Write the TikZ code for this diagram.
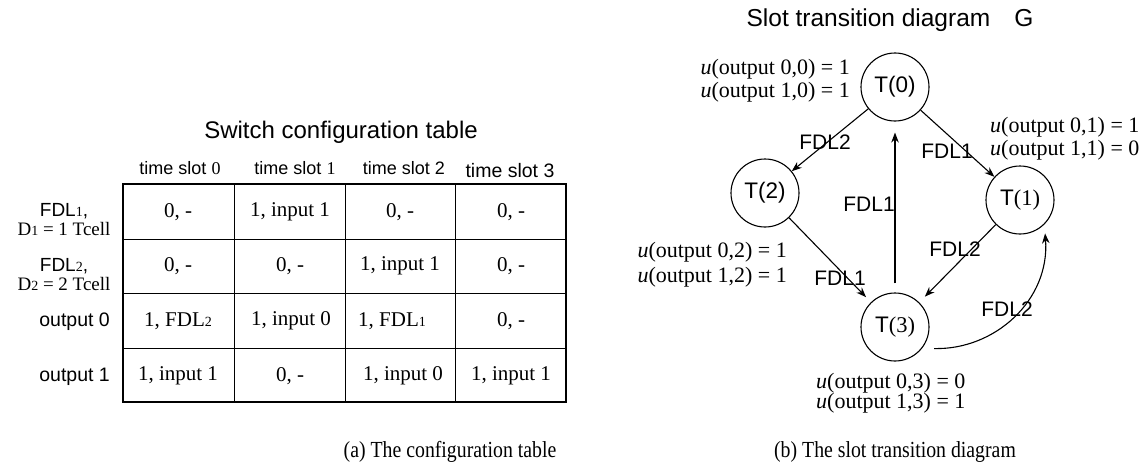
\documentclass[tikz,border=0pt]{standalone}
\usepackage{fontspec}
\setmainfont{Liberation Serif}
\setsansfont{Liberation Sans}
\newfontfamily\capfont[FakeStretch=0.86]{Liberation Serif}
\usetikzlibrary{arrows.meta}
\newcommand{\fsz}[2]{\fontsize{#1}{#2}\selectfont}
\newcommand{\sml}[1]{{\rmfamily\fsz{14}{14}#1}}
\begin{document}
\begin{tikzpicture}[x=1pt,y=-1pt,
  every node/.style={inner sep=0pt},
  tabtitle/.style={font=\sffamily\fsz{24}{26}},
  colhead/.style={font=\sffamily\fsz{18}{20}},
  rowhead/.style={font=\fsz{19}{19}, align=center},
  outhead/.style={font=\sffamily\fsz{19.5}{22}, anchor=east},
  cell/.style={font=\fsz{21}{22}},
  gridline/.style={line width=0.9pt},
  framebox/.style={line width=1.7pt},
  state/.style={circle, draw, line width=1.1pt, minimum size=68pt, font=\sffamily\fsz{22.5}{24}},
  arr/.style={-{Stealth[length=10pt,width=7.5pt]}, line width=1.1pt},
  elab/.style={font=\sffamily\fsz{21}{22}},
  ulab/.style={font=\fsz{22}{23}, align=left},
  captext/.style={font=\capfont\fsz{23}{25}}]
\useasboundingbox (0,0) rectangle (1144,471);

% ---------- configuration table ----------
\node[tabtitle] (ttlA) at (341,132) {Switch configuration table};

\node[colhead] (h0) at (180,168) {time slot \rmfamily 0};
\node[colhead] (h1) at (295,168) {time slot \rmfamily 1};
\node[colhead] (h2) at (404,168) {time slot 2};
\node[colhead, font=\sffamily\fsz{19.5}{20}] (h3) at (510,171) {time slot 3};

\node[rowhead] (r1) at (64,220) {\sffamily FDL\sml{1},\\ D\sml{1} = 1 Tcell};
\node[rowhead] (r2) at (64,275) {\sffamily FDL\sml{2},\\ D\sml{2} = 2 Tcell};
\node[outhead] (r3) at (110,322) {output 0};
\node[outhead] (r4) at (110,377) {output 1};

\draw[gridline] (234,184) -- (234,402) (345,184) -- (345,402) (455,184) -- (455,402);
\draw[gridline] (123,239) -- (566,239) (123,293) -- (566,293) (123,348) -- (566,348);
\draw[framebox] (123,184) rectangle (566,402);

\node[cell] (c11) at (178,212) {0, -};
\node[cell] (c12) at (290,212) {1, input 1};
\node[cell] (c13) at (400,212) {0, -};
\node[cell] (c14) at (511,212) {0, -};

\node[cell] (c21) at (178,266) {0, -};
\node[cell] (c22) at (290,266) {0, -};
\node[cell] (c23) at (400,266) {1, input 1};
\node[cell] (c24) at (511,266) {0, -};

\node[cell] (c31) at (178,321) {1, FDL\sml{2}};
\node[cell] (c32) at (291,321) {1, input 0};
\node[cell] (c33) at (392,321) {1, FDL\sml{1}};
\node[cell] (c34) at (511,321) {0, -};

\node[cell] (c41) at (178,376) {1, input 1};
\node[cell] (c42) at (290,376) {0, -};
\node[cell] (c43) at (403,376) {1, input 0};
\node[cell] (c44) at (511,376) {1, input 1};

\node[captext] (capA) at (450,452) {(a) The configuration table};

% ---------- slot transition diagram ----------
\node[tabtitle, font=\sffamily\fsz{24.5}{26}] (ttlB) at (890,20) {Slot transition diagram\hspace{24pt}G};

\node[state] (T0) at (895,87) {T(0)};
\node[state] (T1) at (1020,200) {T{\rmfamily(1)}};
\node[state] (T2) at (765,193) {T(2)};
\node[state] (T3) at (895,327) {T{\rmfamily(3)}};

\draw[arr] (T0) -- (T2);
\draw[arr] (T0) -- (T1);
\draw[arr, shorten >=7pt] (T2) -- (T3);
\draw[arr, shorten >=8pt] (T1) -- (T3);
\draw[arr, shorten <=9pt, shorten >=11pt] (T3) -- (T0);
\draw[arr, shorten <=12pt, shorten >=9pt] (T3.-38) .. controls (995,350) and (1050,300) .. (T1.-45);

\node[elab] (e02) at (825,142) {FDL2};
\node[elab] (e01) at (947,151) {FDL1};
\node[elab] (e30) at (869,204) {FDL1};
\node[elab] (e23) at (840,278) {FDL1};
\node[elab] (e13) at (955,249) {FDL2};
\node[elab] (e31) at (1007,309) {FDL2};

\node[ulab, anchor=east] (u0) at (850,81) {\textit{u}(output 0,0) = 1\\\textit{u}(output 1,0) = 1};
\node[ulab, anchor=west] (u1) at (990,139) {\textit{u}(output 0,1) = 1\\\textit{u}(output 1,1) = 0};
\node[ulab, font=\fsz{22}{25}, anchor=east] (u2) at (787,265) {\textit{u}(output 0,2) = 1\\\textit{u}(output 1,2) = 1};
\node[ulab, font=\fsz{22}{20}, anchor=west] (u3) at (816,393) {\textit{u}(output 0,3) = 0\\\textit{u}(output 1,3) = 1};

\node[captext] (capB) at (895,452) {(b) The slot transition diagram};
\end{tikzpicture}
\end{document}
